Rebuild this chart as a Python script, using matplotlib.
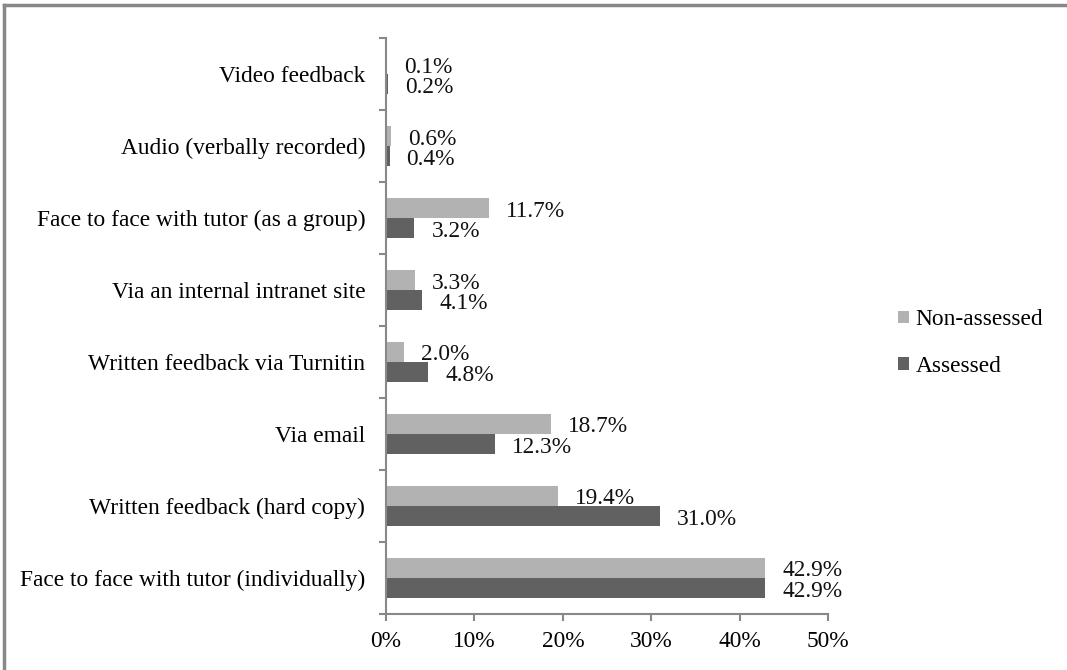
import matplotlib
matplotlib.use("Agg")
import matplotlib.pyplot as plt
from matplotlib.lines import Line2D
import numpy as np

# feedback methods, bottom to top
categories = ["Face to face with tutor (individually)", "Written feedback (hard copy)",
              "Via email", "Written feedback via Turnitin", "Via an internal intranet site",
              "Face to face with tutor (as a group)", "Audio (verbally recorded)", "Video feedback"]
non_assessed = [42.9, 19.4, 18.7, 2.0, 3.3, 11.7, 0.6, 0.1]
assessed = [42.9, 31.0, 12.3, 4.8, 4.1, 3.2, 0.4, 0.2]
x_ticks = [0, 10, 20, 30, 40, 50]

plt.rcParams['font.family'] = ['Liberation Serif', 'DejaVu Serif']
fs = 16.8

fig = plt.figure(figsize=(10.67, 6.7), dpi=100)
ax = fig.add_axes([0.3618, 0.0836, 0.4142, 0.8594])

y = np.arange(len(categories))
h = 0.28
light, dark = "#b2b2b2", "#616161"
b1 = ax.barh(y + h / 2, non_assessed, height=h, color=light, label="Non-assessed")
b2 = ax.barh(y - h / 2, assessed, height=h, color=dark, label="Assessed")

for bars, vals in ((b1, non_assessed), (b2, assessed)):
    for bar, v in zip(bars, vals):
        ax.annotate(f"{v:.1f}%", (v, bar.get_y() + bar.get_height() / 2),
                    xytext=(17, -3), textcoords="offset pixels",
                    va="center", ha="left", fontsize=fs, color="#111111")

ax.set_xlim(0, 50)
ax.set_ylim(-0.5, len(categories) - 0.5)
ax.set_xticks(x_ticks)
ax.set_xticklabels([f"{t}%" for t in x_ticks], fontsize=fs)
ax.set_yticks(y)
ax.set_yticklabels(categories, fontsize=fs)
ax.set_yticks(np.arange(len(categories) + 1) - 0.5, minor=True)
ax.tick_params(axis="y", which="major", length=0, pad=15)
ax.tick_params(axis="y", which="minor", length=5, color="#888888", width=1.5, direction="out")
ax.tick_params(axis="x", length=5, color="#888888", width=1.5, pad=7)

for s in ("top", "right"):
    ax.spines[s].set_visible(False)
for s in ("left", "bottom"):
    ax.spines[s].set_color("#888888")
    ax.spines[s].set_linewidth(1.5)

leg = fig.legend(handles=[b1, b2], loc="center left", bbox_to_anchor=(0.833, 0.488),
                 frameon=False, fontsize=fs, handlelength=0.45, handleheight=0.45,
                 handletextpad=0.3, labelspacing=1.1, borderaxespad=0)

# outer frame (left and top only visible in the source)
fig.add_artist(Line2D([0.004, 0.004], [0, 0.993], transform=fig.transFigure, color="#888888", lw=2.5))
fig.add_artist(Line2D([0.004, 1], [0.993, 0.993], transform=fig.transFigure, color="#888888", lw=2.5))

fig.savefig("out.png", dpi=100)
